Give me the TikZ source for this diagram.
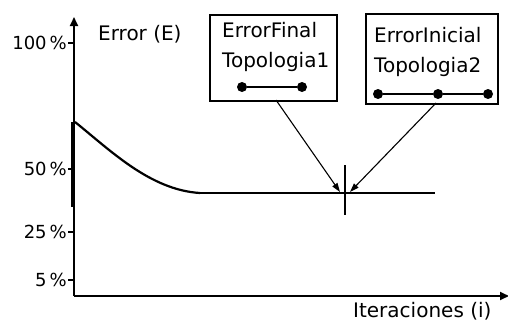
\documentclass[tikz,border=0pt]{standalone}
\usepackage{fontspec}
\setmainfont{DejaVu Sans}
\usetikzlibrary{arrows.meta}
\begin{document}
\begin{tikzpicture}[x=1pt,y=-1pt,
  ln/.style={line width=1.8pt},
  lbl/.style={font=\fontsize{20}{20}\selectfont,inner sep=0pt},
  tick/.style={font=\fontsize{18}{18}\selectfont,inner sep=0pt,anchor=east},
  dotn/.style={circle,fill,inner sep=0pt,minimum size=10pt},
  arr/.style={line width=1.1pt,-{Triangle[length=9pt,width=6pt]}}]
\useasboundingbox (0,0) rectangle (508,324);
% axes
\coordinate (O) at (74,296);
\coordinate (Ytop) at (74,17);
\coordinate (Xend) at (509,296);
\draw[ln,-{Triangle[length=9pt,width=8pt]}] (O) -- (Ytop);
\draw[ln,-{Triangle[length=9pt,width=8pt]}] (O) -- (Xend);
\coordinate (T1a) at (74,122); \coordinate (T1b) at (74,207);
\draw[line width=3.5pt] ([xshift=-1pt]T1a) -- ([xshift=-1pt]T1b);
% ticks
\foreach \n/\y/\t in {a/43/100\,\%,b/169/50\,\%,c/232/25\,\%,d/280/5\,\%}{
  \coordinate (tk\n) at (68,\y);
  \coordinate (ta\n) at (74,\y);
  \draw[ln] (tk\n) -- (ta\n);
  \node[tick] (tl\n) at ([xshift=-1pt]tk\n) {\t};
}
\node[lbl,anchor=base west] (ylab) at (98,40) {Error (E)};
\node[lbl,anchor=base west] (xlab) at (353,317) {Iteraciones (i)};
% curve
\coordinate (C0) at (75,122);
\coordinate (C1) at (200,193);
\coordinate (C2) at (435,193);
\draw[ln,line width=2.2pt] (C0) .. controls (110,150) and (150,190) .. (C1);
\draw[ln] (C1) -- (C2);
% cross
\coordinate (V1) at (345,165); \coordinate (V2) at (345,215);
\draw[ln] (V1) -- (V2);
% box 1
\node[draw,line width=1.8pt,minimum width=127pt,minimum height=86pt,anchor=north west] (b1) at (209,14) {};
\node[lbl,anchor=base west] (b1t1) at (222,37) {ErrorFinal};
\node[lbl,anchor=base west] (b1t2) at (222,67) {Topologia1};
\node[dotn] (d11) at (242,87) {};
\node[dotn] (d12) at (302,87) {};
\draw[ln] (d11) -- (d12);
% box 2
\node[draw,line width=1.8pt,minimum width=132pt,minimum height=90pt,anchor=north west] (b2) at (365,13) {};
\node[lbl,anchor=base west] (b2t1) at (374,42) {ErrorInicial};
\node[lbl,anchor=base west] (b2t2) at (374,72) {Topologia2};
\node[dotn] (d21) at (378,94) {};
\node[dotn] (d22) at (438,94) {};
\node[dotn] (d23) at (488,94) {};
\draw[ln] (d21) -- (d22) -- (d23);
% arrows
\coordinate (A1s) at (276,100);
\coordinate (A1e) at (340,192);
\coordinate (A2s) at (436,103);
\coordinate (A2e) at (350,192);
\draw[arr] (A1s) -- (A1e);
\draw[arr] (A2s) -- (A2e);
\end{tikzpicture}
\end{document}
